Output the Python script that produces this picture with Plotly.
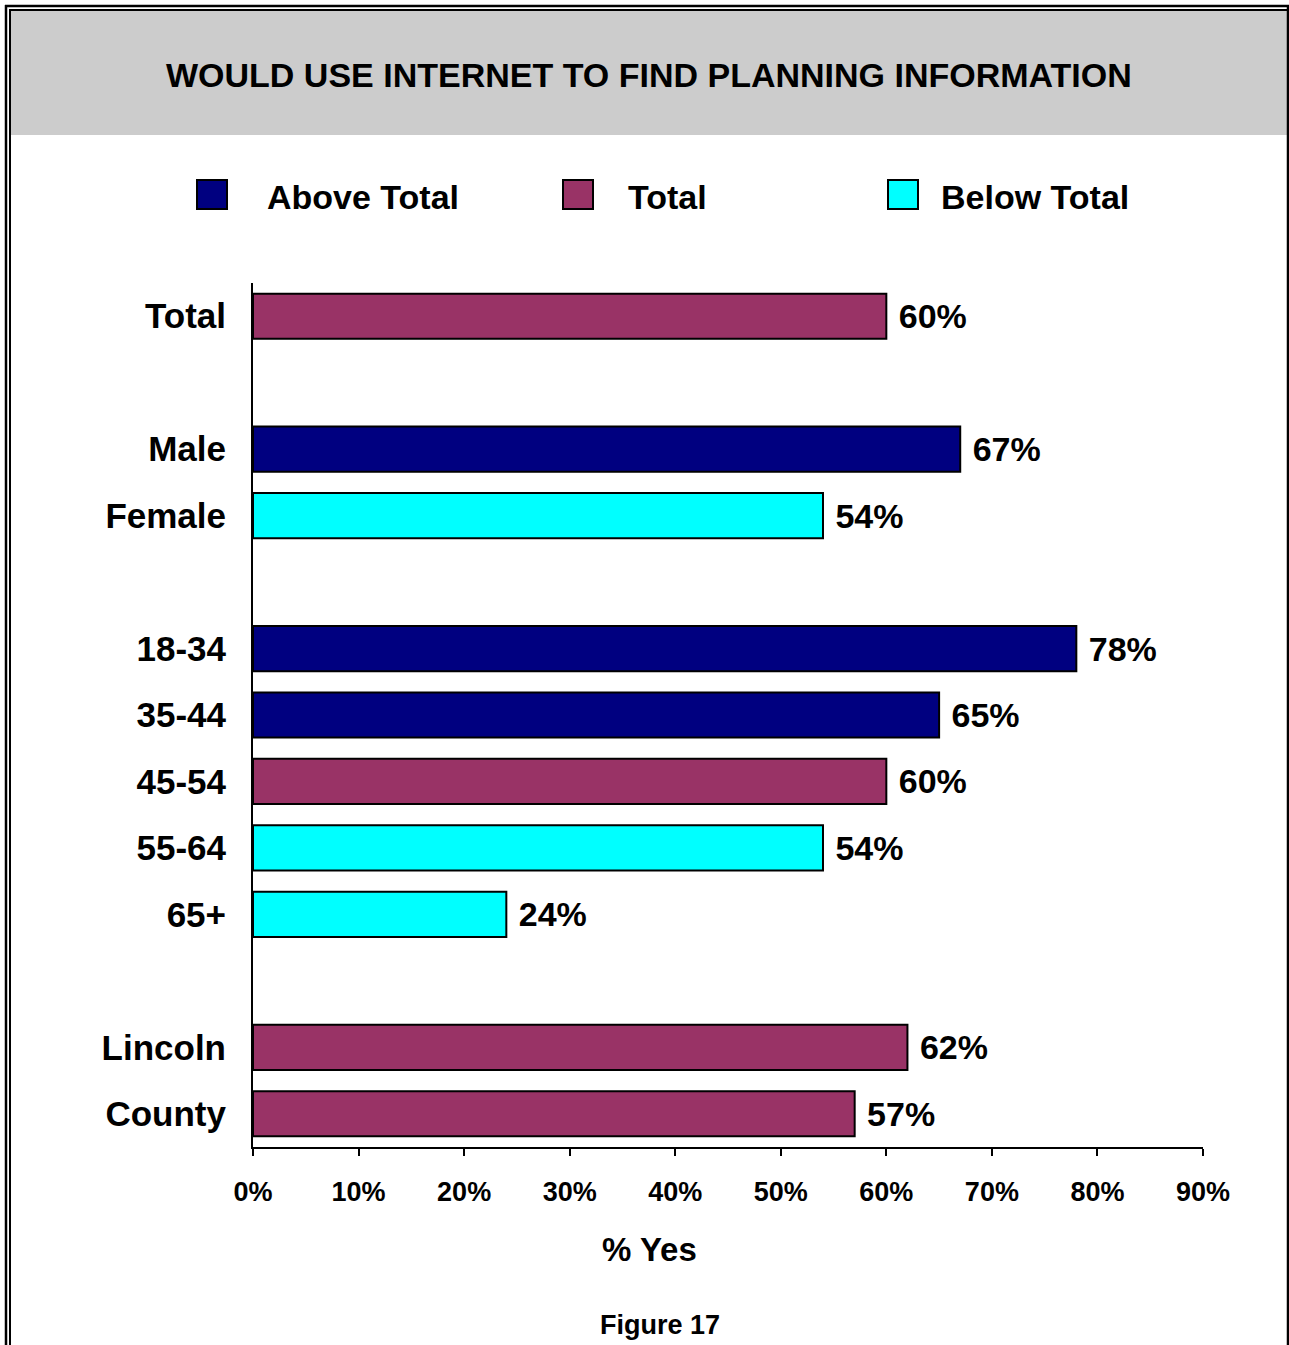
import plotly.graph_objects as go

# ---- data ----
groups = [
    ["Total"],
    ["Male", "Female"],
    ["18-34", "35-44", "45-54", "55-64", "65+"],
    ["Lincoln", "County"],
]
values = [60, 67, 54, 78, 65, 60, 54, 24, 62, 57]
status = ["Total", "Above Total", "Below Total", "Above Total", "Above Total",
          "Total", "Below Total", "Below Total", "Total", "Total"]
legend_order = ["Above Total", "Total", "Below Total"]
colors = {"Above Total": "#000080", "Total": "#993366", "Below Total": "#00FFFF"}
x_ticks = [0, 10, 20, 30, 40, 50, 60, 70, 80, 90]
x_tick_labels = ["0%", "10%", "20%", "30%", "40%", "50%", "60%", "70%", "80%", "90%"]
title_text = "WOULD USE INTERNET TO FIND PLANNING INFORMATION"
x_title = "% Yes"
figure_caption = "Figure 17"

# ---- slot positions (blank slot between groups) ----
labels, ypos = [], []
pos = 0
for gi, g in enumerate(groups):
    if gi > 0:
        pos += 1
    for lab in g:
        labels.append(lab)
        ypos.append(pos)
        pos += 1
n_slots = pos

W, H = 1289, 1345
ML, MT = 253, 283
PW = 1203 - 253
PH = 1147 - 283
MR = W - ML - PW
MB = H - MT - PH


def px(x):
    return (x - ML) / PW


def py(y):
    return 1 - (y - MT) / PH


FONT = "Liberation Sans, Arial, sans-serif"

fig = go.Figure()
for st in legend_order:
    idx = [i for i, s in enumerate(status) if s == st]
    fig.add_trace(go.Bar(
        orientation="h",
        x=[values[i] for i in idx],
        y=[ypos[i] for i in idx],
        width=0.68,
        name=st,
        marker=dict(color=colors[st], line=dict(color="black", width=2)),
        text=[" " + f"{values[i]}%" for i in idx],
        textposition="outside",
        constraintext="none",
        cliponaxis=False,
        textfont=dict(family=FONT, size=34, color="black", weight="bold"),
        showlegend=False,
        hoverinfo="skip",
    ))

shapes = []
# title box
shapes.append(dict(type="rect", xref="paper", yref="paper",
                   x0=px(10), x1=px(1287), y0=py(10), y1=py(135),
                   fillcolor="#CCCCCC", line=dict(width=0), layer="below"))
# frame lines (double line on left/top)
line_k = dict(color="black", width=2.5)
shapes.append(dict(type="line", xref="paper", yref="paper", x0=px(6), x1=px(6), y0=py(5), y1=py(1345), line=line_k))
shapes.append(dict(type="line", xref="paper", yref="paper", x0=px(10), x1=px(10), y0=py(9), y1=py(1345), line=dict(color="black", width=2)))
shapes.append(dict(type="line", xref="paper", yref="paper", x0=px(5), x1=px(1289), y0=py(6), y1=py(6), line=line_k))
shapes.append(dict(type="line", xref="paper", yref="paper", x0=px(9), x1=px(1288), y0=py(10), y1=py(10), line=dict(color="black", width=2)))
shapes.append(dict(type="line", xref="paper", yref="paper", x0=px(1288), x1=px(1288), y0=py(6), y1=py(1345), line=line_k))

annotations = []
annotations.append(dict(text=title_text, xref="paper", yref="paper", x=px(649), y=py(75),
                        showarrow=False, xanchor="center", yanchor="middle",
                        font=dict(family=FONT, size=34, color="black", weight="bold")))

# manual legend
leg_sq_x = [197, 563, 888]
leg_txt_x = [265, 626, 939]
for st, sx, tx in zip(legend_order, leg_sq_x, leg_txt_x):
    shapes.append(dict(type="rect", xref="paper", yref="paper",
                       x0=px(sx), x1=px(sx + 30), y0=py(180), y1=py(209),
                       fillcolor=colors[st], line=dict(color="black", width=2)))
    annotations.append(dict(text=st, xref="paper", yref="paper", x=px(tx), y=py(197),
                            showarrow=False, xanchor="left", yanchor="middle",
                            font=dict(family=FONT, size=34, color="black", weight="bold")))

annotations.append(dict(text=x_title, xref="paper", yref="paper", x=px(649), y=py(1249),
                        showarrow=False, xanchor="center", yanchor="middle",
                        font=dict(family=FONT, size=33, color="black", weight="bold")))
annotations.append(dict(text=figure_caption, xref="paper", yref="paper", x=px(660), y=py(1325),
                        showarrow=False, xanchor="center", yanchor="middle",
                        font=dict(family=FONT, size=27, color="black", weight="bold")))

fig.update_layout(
    width=W, height=H,
    margin=dict(l=ML, r=MR, t=MT, b=MB, pad=0),
    paper_bgcolor="white", plot_bgcolor="white",
    barmode="overlay",
    shapes=shapes, annotations=annotations,
    xaxis=dict(range=[0, 90], tickvals=x_ticks, ticktext=x_tick_labels,
               showgrid=False, zeroline=False,
               showline=True, linecolor="black", linewidth=2,
               ticks="outside", ticklen=7, tickwidth=2, tickcolor="black",
               ticklabelstandoff=13,
               tickfont=dict(family=FONT, size=27, color="black", weight="bold")),
    yaxis=dict(range=[n_slots - 0.5, -0.5], tickvals=ypos, ticktext=labels,
               showgrid=False, zeroline=False,
               showline=True, linecolor="black", linewidth=2, ticks="",
               ticklabelstandoff=18,
               tickfont=dict(family=FONT, size=35, color="black", weight="bold")),
)

fig.write_html("out.html",
               config={"displayModeBar": False},
               post_script="document.body.style.margin='0';document.body.style.overflow='hidden';")
